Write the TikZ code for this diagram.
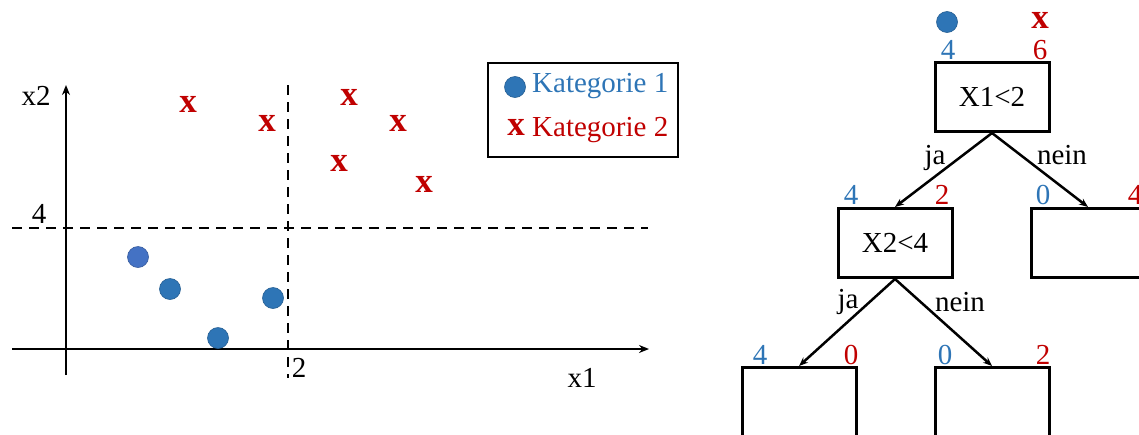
\documentclass[tikz,border=0pt]{standalone}
\usepackage{fontspec}
\setmainfont{Liberation Serif}
\usetikzlibrary{arrows.meta}
\definecolor{catblue}{HTML}{2E75B6}
\definecolor{catblueb}{HTML}{4472C4}
\definecolor{catred}{HTML}{C00000}
\tikzset{
  every node/.style={font=\fontsize{29}{34}\selectfont, inner sep=0pt},
  axis/.style={line width=2.8pt, -{Stealth[length=10pt,width=8pt]}},
  guide/.style={line width=2.4pt, dash pattern=on 10pt off 7pt},
  dot/.style={circle, fill=catblue, draw=catblue!80!black, line width=0.6pt, minimum size=21pt},
  cross/.style={text=catred, font=\fontsize{35}{36}\selectfont\bfseries},
  testbox/.style={draw, line width=3pt, minimum width=114pt, minimum height=69pt},
  edge/.style={line width=2.5pt, -{Stealth[length=9pt,width=7pt]}},
  bnum/.style={text=catblue},
  rnum/.style={text=catred},
}
\begin{document}
\begin{tikzpicture}[x=1pt, y=-1pt]
\clip (0,0) rectangle (1139,434);
\useasboundingbox (0,0) rectangle (1139,434);

% ---- scatter plot ----
\coordinate (yb) at (66,375);
\coordinate (yt) at (66,85);
\coordinate (xl) at (12,349);
\coordinate (xr) at (649,349);
\draw[axis] (yb) -- (yt);
\draw[axis] (xl) -- (xr);
\coordinate (hl) at (12,228);
\coordinate (hr) at (648,228);
\coordinate (vt) at (288,85);
\coordinate (vb) at (288,378);
\draw[guide] (hl) -- (hr);
\draw[guide] (vt) -- (vb);

\node (lx2) at (36,96) {x2};
\node (l4) at (39,214) {4};
\node (l2) at (299,368) {2};
\node (lx1) at (582,378) {x1};

\node[dot, fill=catblueb, draw=catblueb!80!black] (p1) at (138,257) {};
\node[dot] (p2) at (170,289) {};
\node[dot] (p3) at (218,338) {};
\node[dot] (p4) at (273,298) {};

\node[cross] (c1) at (188,104) {x};
\node[cross] (c2) at (267,123) {x};
\node[cross] (c3) at (349,97) {x};
\node[cross] (c4) at (398,123) {x};
\node[cross] (c5) at (339,163) {x};
\node[cross] (c6) at (424,184) {x};

% ---- legend ----
\node[draw, line width=1.3pt, minimum width=190pt, minimum height=94pt] (leg) at (583,110) {};
\node[dot] (legdot) at (515,87) {};
\node[anchor=west, text=catblue] (leg1) at (532,86) {Kategorie 1};
\node[cross] (legx) at (516,127) {x};
\node[anchor=west, text=catred] (leg2) at (532,130) {Kategorie 2};

% ---- decision tree ----
\node[dot] (tdot) at (947,22) {};
\node[cross] (tx) at (1040,20) {x};

\node[testbox] (root) at (992,97) {X1<2};
\node[testbox] (n1) at (895,243) {X2<4};
\node[testbox] (n2) at (1088,243) {};
\node[testbox] (n3) at (799,402) {};
\node[testbox] (n4) at (992,402) {};

\draw[edge] (root.south) -- (n1.north);
\draw[edge] (root.south) -- (n2.north);
\draw[edge] (n1.south) -- (n3.north);
\draw[edge] (n1.south) -- (n4.north);

\node (ja1) at (935,158) {ja};
\node (nein1) at (1062,155) {nein};
\node (ja2) at (848,302) {ja};
\node (nein2) at (960,302) {nein};

\node[bnum] (r4) at (948,50) {4};
\node[rnum] (r6) at (1040,50) {6};
\node[bnum] (a4) at (851,195) {4};
\node[rnum] (a2) at (942,195) {2};
\node[bnum] (b0) at (1043,195) {0};
\node[rnum] (b4) at (1135,195) {4};
\node[bnum] (c4n) at (760,355) {4};
\node[rnum] (c0) at (851,355) {0};
\node[bnum] (d0) at (945,355) {0};
\node[rnum] (d2) at (1043,355) {2};
\end{tikzpicture}
\end{document}
